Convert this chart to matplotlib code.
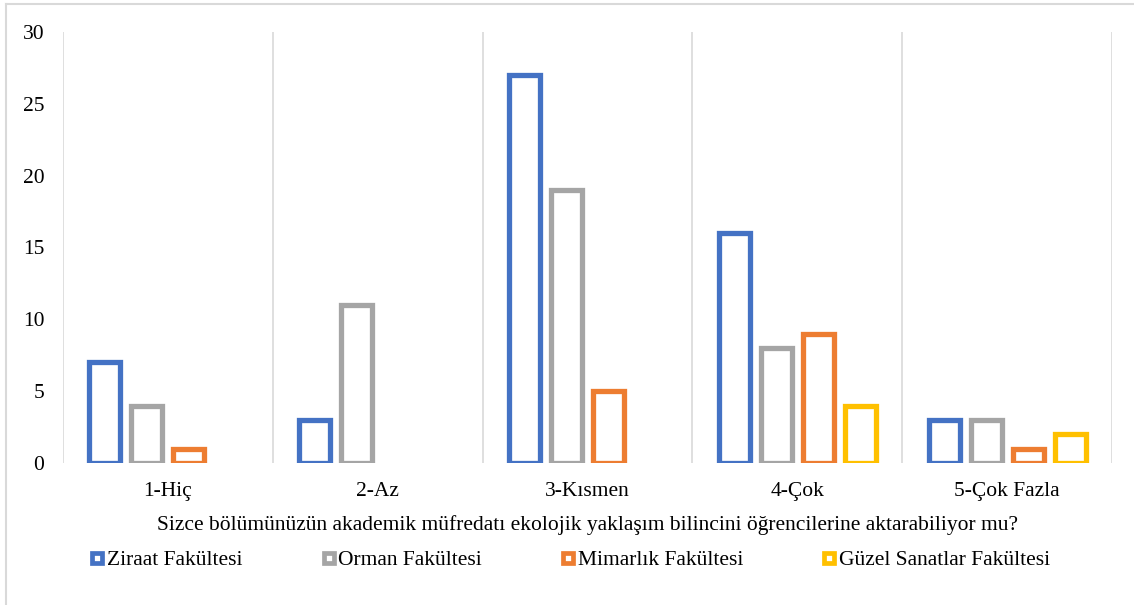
import numpy as np
import matplotlib.pyplot as plt
from matplotlib.lines import Line2D

plt.rcParams['font.family'] = ['Liberation Serif', 'DejaVu Serif']

categories = ['1-Hiç', '2-Az', '3-Kısmen', '4-Çok', '5-Çok Fazla']
series_names = ['Ziraat Fakültesi', 'Orman Fakültesi', 'Mimarlık Fakültesi',
                'Güzel Sanatlar Fakültesi']
ziraat = [7, 3, 27, 16, 3]
orman = [4, 11, 19, 8, 3]
mimarlik = [1, 0, 5, 9, 1]
guzel = [0, 0, 0, 4, 2]
colors = ['#4472C4', '#A5A5A5', '#ED7D31', '#FFC000']
xlabel = 'Sizce bölümünüzün akademik müfredatı ekolojik yaklaşım bilincini öğrencilerine aktarabiliyor mu?'

W, H = 1134, 605
fs = 15.5
fig = plt.figure(figsize=(W / 100, H / 100), dpi=100)
ax = fig.add_axes([63 / W, 1 - 463 / H, (1112 - 63) / W, (463 - 32) / H])

x = np.arange(len(categories))
pitch = 0.2
width = 0.148
lw = 3.8
for i, (vals, c) in enumerate(zip([ziraat, orman, mimarlik, guzel], colors)):
    vals = np.array(vals)
    pos = x + (i - 1.5) * pitch
    keep = vals > 0
    ax.bar(pos[keep], vals[keep], width=width, facecolor='white',
           edgecolor=c, linewidth=lw, zorder=3)

ax.set_xlim(-0.5, len(categories) - 0.5)
ax.set_ylim(0, 30)
ax.set_yticks(range(0, 31, 5))
ax.set_xticks(x)
ax.set_xticklabels(categories)
ax.set_xticks(np.arange(-0.5, len(categories)), minor=True)
ax.grid(which='minor', axis='x', color='#D9D9D9', linewidth=1.2, zorder=0)
ax.tick_params(which='both', length=0, labelsize=fs)
ax.tick_params(axis='x', pad=14)
ax.tick_params(axis='y', pad=13.5)
for s in ax.spines.values():
    s.set_visible(False)

fig.text(587.5 / W, 1 - 525 / H, xlabel, fontsize=fs, ha='center', va='center')

handles = [Line2D([], [], linestyle='none', marker='s', markersize=7.2,
                  markerfacecolor='white', markeredgecolor=c, markeredgewidth=3.4)
           for c in colors]
fig.legend(handles, series_names, loc='center', bbox_to_anchor=(570 / W, 1 - 560 / H),
           ncol=4, frameon=False, fontsize=fs, handletextpad=0.1,
           columnspacing=3.65, handlelength=0.7, borderpad=0, borderaxespad=0)

# chart area border (only top and left visible in the reference)
fig.add_artist(Line2D([6 / W, 1], [1 - 4 / H, 1 - 4 / H], color='#D9D9D9', linewidth=1.5))
fig.add_artist(Line2D([6 / W, 6 / W], [0, 1 - 4 / H], color='#D9D9D9', linewidth=1.5))

fig.savefig('out.png', dpi=100)
